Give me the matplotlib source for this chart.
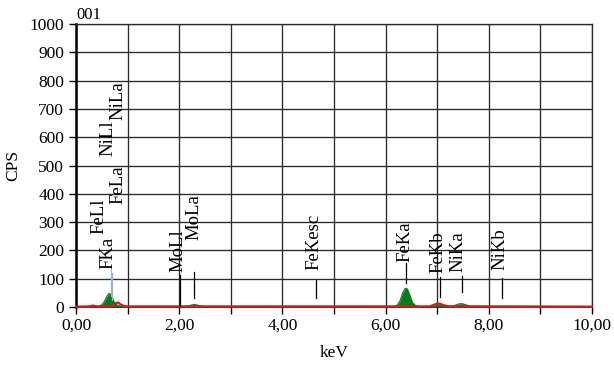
import matplotlib
matplotlib.use("Agg")
import matplotlib.pyplot as plt
from matplotlib.ticker import MultipleLocator

plt.rcParams['font.family'] = ['Liberation Serif', 'DejaVu Serif']

# Measured spectrum (green, filled)
energy_green = [0.00, 0.30, 0.45, 0.50, 0.55, 0.60, 0.64, 0.67, 0.70, 0.74, 0.78, 0.83, 0.92,
                2.10, 2.18, 2.24, 2.29, 2.35, 2.42, 2.50,
                6.15, 6.22, 6.28, 6.33, 6.38, 6.42, 6.47, 6.52, 6.58, 6.66,
                6.90, 6.97, 7.03, 7.10, 7.18, 7.28, 7.36, 7.42, 7.48, 7.55, 7.64, 10.00]
counts_green = [2, 2, 3, 8, 20, 38, 48, 46, 34, 18, 9, 4, 2,
                2, 4, 7, 9, 7, 4, 2,
                2, 6, 22, 50, 66, 64, 42, 16, 5, 2,
                2, 4, 6, 5, 3, 3, 7, 11, 12, 8, 3, 2]

# Reference spectrum (red line)
energy_red = [0.00, 0.25, 0.32, 0.40, 0.70, 0.76, 0.81, 0.86, 0.92, 1.00,
              6.85, 6.93, 7.00, 7.06, 7.13, 7.22, 10.00]
counts_red = [1, 2, 5, 2, 3, 12, 16, 10, 4, 2,
              2, 7, 12, 11, 6, 2, 1]

# Element line markers: name, line energy, text x, text bottom, marker bottom, marker top
label_names = ["FKa", "FeLl", "FeLa", "NiLl", "NiLa", "MoLl", "MoLa", "FeKesc",
               "FeKa", "FeKb", "NiKa", "NiKb"]
line_energy = [0.677, 0.615, 0.705, 0.743, 0.851, 2.016, 2.293, 4.660,
               6.400, 7.058, 7.472, 8.265]
text_x = [0.62, 0.44, 0.81, 0.62, 0.81, 1.97, 2.29, 4.62,
          6.38, 7.01, 7.41, 8.21]
text_bottom = [136, 258, 365, 535, 662, 124, 236, 131,
               158, 120, 124, 131]
marker_lo = [40, None, 25, None, None, 0, 32, 32,
             85, 35, 53, 32]
marker_hi = [132, None, 120, None, None, 112, 124, 95,
             155, 106, 110, 102]

x_ticks = list(range(0, 11))
x_tick_labels = [f"{v:.2f}".replace(".", ",") if v % 2 == 0 else "" for v in x_ticks]

fig = plt.figure(figsize=(6.14, 3.65), dpi=100)
ax = fig.add_axes([0.1238, 0.1589, 0.8404, 0.7753])

ax.set_xlim(0, 10)
ax.set_ylim(0, 1000)

ax.yaxis.set_major_locator(MultipleLocator(100))
ax.set_xticks(x_ticks)
ax.set_xticklabels(x_tick_labels)
ax.grid(True, color="#2a2a2a", linewidth=0.95)
ax.set_axisbelow(True)

ax.tick_params(axis="both", direction="out", length=5, width=1.0, labelsize=12.5,
               colors="black")
ax.tick_params(axis="x", pad=3)

for s in ("top", "right"):
    ax.spines[s].set_color("#2a2a2a")
    ax.spines[s].set_linewidth(0.95)
ax.spines["left"].set_linewidth(1.8)
ax.spines["bottom"].set_linewidth(1.2)

ax.fill_between(energy_green, counts_green, 0, color="#0a7a1a", linewidth=0, zorder=3)
ax.plot(energy_green, counts_green, color="#0a7a1a", linewidth=0.8, zorder=3)
ax.plot(energy_red, counts_red, color="#e8101a", linewidth=1.6, zorder=4, clip_on=False)

for name, e, tx, tb, lo, hi in zip(label_names, line_energy, text_x, text_bottom,
                                   marker_lo, marker_hi):
    if lo is not None:
        col = "#9fb4c8" if e < 1 else "black"
        ax.plot([e, e], [lo, hi], color=col, linewidth=0.9, zorder=5)
    ax.text(tx, tb, name, rotation=90, ha="center", va="bottom", fontsize=13.5,
            zorder=6)

ax.set_xlabel("keV", fontsize=12.5, labelpad=8)
ax.set_ylabel("CPS", fontsize=12.5, labelpad=6)
ax.text(0.0, 1.005, "001", transform=ax.transAxes, ha="left", va="bottom", fontsize=12)

fig.savefig("out.png", dpi=100)
